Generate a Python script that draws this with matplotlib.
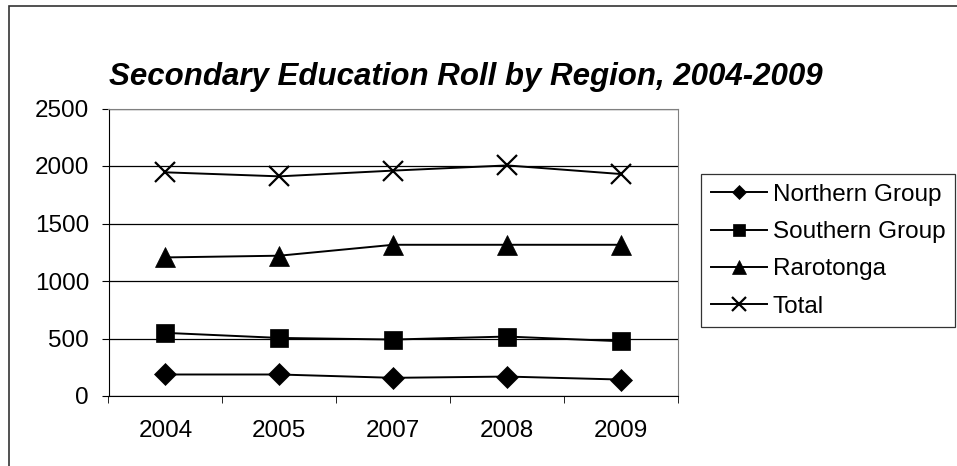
import matplotlib
matplotlib.use("Agg")
import matplotlib.pyplot as plt
from matplotlib.patches import Rectangle
import numpy as np

years = ["2004", "2005", "2007", "2008", "2009"]
northern = [187, 187, 158, 169, 143]
southern = [549, 505, 491, 517, 476]
rarotonga = [1205, 1220, 1315, 1315, 1315]
total = [1945, 1910, 1960, 2005, 1930]

series = [
    ("Northern Group", northern, "D", 11),
    ("Southern Group", southern, "s", 13),
    ("Rarotonga", rarotonga, "^", 14.5),
    ("Total", total, "x", 15),
]

plt.rcParams["font.family"] = ["Liberation Sans", "DejaVu Sans"]

W, H = 957, 466
fig = plt.figure(figsize=(W / 100, H / 100), dpi=100)
ax = fig.add_axes([108.5 / W, 1 - 396 / H, (678 - 108.5) / W, (396 - 108.5) / H])

x = np.arange(len(years))
for label, vals, marker, size in series:
    ax.plot(x, vals, color="black", linewidth=1.4, marker=marker,
            markersize=size, markeredgewidth=1.6 if marker == "x" else 0.5,
            markerfacecolor="black", markeredgecolor="black", label=label)

ax.set_xlim(-0.5, len(years) - 0.5)
ax.set_ylim(0, 2500)
ax.set_yticks(np.arange(0, 2501, 500))
ax.set_xticks(x)
ax.set_xticklabels(years, fontsize=17.5)
ax.tick_params(axis="x", length=0, pad=17)
ax.set_xticks(np.arange(-0.5, len(years)), minor=True)
ax.tick_params(axis="x", which="minor", length=5, color="black")
ax.tick_params(axis="y", labelsize=17.5, length=5, pad=9)
ax.grid(axis="y", color="black", linewidth=0.9)
ax.set_axisbelow(True)
for side in ("top", "right"):
    ax.spines[side].set_color("#808080")
for side in ("left", "bottom"):
    ax.spines[side].set_color("black")

fig.text(466 / W, 1 - 85 / H, "Secondary Education Roll by Region, 2004-2009",
         ha="center", va="baseline", fontsize=22.5, fontweight="bold", style="italic")

leg = ax.legend(loc="upper left", bbox_to_anchor=(701 / W, 1 - 174 / H),
                bbox_transform=fig.transFigure, fontsize=17.5, frameon=True,
                fancybox=False, borderaxespad=0, handlelength=2.3,
                handletextpad=0.25, labelspacing=0.63, borderpad=0.4,
                markerscale=0.65)
leg.get_frame().set_edgecolor("black")
leg.get_frame().set_linewidth(0.9)

fig.patches.append(Rectangle((9 / W, -0.01), 1.0, 1 - 6 / H + 0.01,
                             transform=fig.transFigure, fill=False,
                             edgecolor="#333333", linewidth=1.2))

fig.savefig("out.png", dpi=100)
